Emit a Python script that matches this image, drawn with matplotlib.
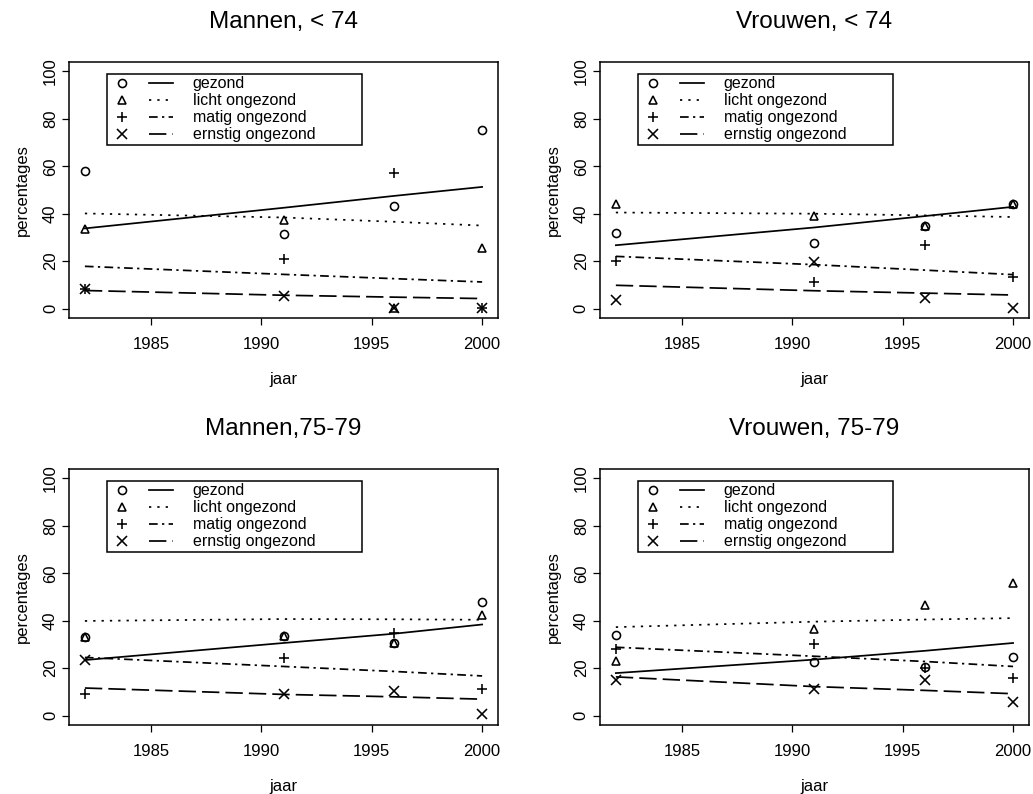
import numpy as np
import matplotlib
matplotlib.use('Agg')
import matplotlib.pyplot as plt
from matplotlib.lines import Line2D
from matplotlib.legend_handler import HandlerTuple

plt.rcParams['font.family'] = ['Liberation Sans', 'DejaVu Sans']

years = [1982, 1991, 1996, 2000]
labels = ['gezond', 'licht ongezond', 'matig ongezond', 'ernstig ongezond']

# Mannen, < 74 : observed percentages
m74_gezond = [58.0, 31.5, 43.1, 75.4]
m74_licht = [33.6, 37.3, 0.4, 25.6]
m74_matig = [8.3, 20.9, 57.3, 0.4]
m74_ernstig = [8.2, 5.2, 0.4, 0.4]
# fitted
m74_fit_gezond = [33.8, 42.5, 47.5, 51.3]
m74_fit_licht = [40.1, 38.4, 36.6, 35.0]
m74_fit_matig = [17.8, 14.4, 12.6, 11.2]
m74_fit_ernstig = [7.6, 5.6, 4.8, 4.2]

# Vrouwen, < 74
v74_gezond = [31.8, 27.7, 34.9, 43.9]
v74_licht = [43.9, 39.1, 34.9, 43.9]
v74_matig = [19.9, 11.2, 26.8, 13.1]
v74_ernstig = [3.5, 19.5, 4.4, 0.4]
v74_fit_gezond = [26.7, 34.2, 39.0, 42.9]
v74_fit_licht = [40.5, 40.0, 39.3, 38.6]
v74_fit_matig = [22.0, 18.5, 16.2, 14.3]
v74_fit_ernstig = [9.8, 7.5, 6.5, 5.7]

# Mannen, 75-79
m79_gezond = [33.3, 33.6, 30.5, 47.7]
m79_licht = [33.3, 33.6, 30.5, 42.6]
m79_matig = [9.2, 24.2, 35.0, 11.0]
m79_ernstig = [23.5, 9.2, 10.5, 0.7]
m79_fit_gezond = [23.4, 30.6, 34.5, 38.4]
m79_fit_licht = [39.9, 40.7, 40.6, 40.4]
m79_fit_matig = [24.5, 20.7, 18.6, 16.7]
m79_fit_ernstig = [11.6, 8.9, 7.9, 6.9]

# Vrouwen, 75-79
v79_gezond = [33.9, 22.7, 20.6, 24.5]
v79_licht = [22.8, 36.6, 46.8, 55.7]
v79_matig = [28.2, 30.2, 20.0, 15.9]
v79_ernstig = [14.9, 11.2, 14.9, 5.5]
v79_fit_gezond = [17.9, 23.6, 27.3, 30.6]
v79_fit_licht = [37.3, 39.6, 40.5, 41.1]
v79_fit_matig = [28.8, 25.0, 22.8, 20.7]
v79_fit_ernstig = [16.3, 12.2, 10.6, 9.2]

markers = ['o', '^', '+', 'x']
msizes = [5.8, 6.2, 7.3, 6.6]
lstyles = ['-', (0, (1.3, 3.5)), (0, (5, 2.5, 1.3, 2.5)), (0, (10, 3.5))]


def draw_panel(ax, title, obs, fits):
    for i in range(4):
        ax.plot(years, fits[i], color='black', lw=1.25, linestyle=lstyles[i])
    for i in range(4):
        ax.plot(years, obs[i], linestyle='none', marker=markers[i], ms=msizes[i],
                mfc='none', mec='black', mew=1.15)
    ax.set_xlim(1981.28, 2000.72)
    ax.set_ylim(-4, 104)
    ax.set_xticks([1985, 1990, 1995, 2000])
    ax.set_yticks([0, 20, 40, 60, 80, 100])
    ax.tick_params(axis='both', direction='out', length=5, width=0.9, labelsize=12)
    ax.tick_params(axis='x', pad=9)
    ax.tick_params(axis='y', pad=3)
    for lab in ax.get_yticklabels():
        lab.set_rotation(90)
        lab.set_va('center')
    for s in ax.spines.values():
        s.set_linewidth(1.1)
    ax.text(0.5, 1.156, title, transform=ax.transAxes, ha='center', va='center', fontsize=17.5)
    ax.set_xlabel('jaar', fontsize=12)
    ax.xaxis.set_label_coords(0.5, -0.242)
    ax.xaxis.label.set_va('center')
    ax.set_ylabel('percentages', fontsize=12)
    ax.yaxis.set_label_coords(-0.108, 0.5)
    ax.yaxis.label.set_va('center')

    handles = []
    for i in range(4):
        h_m = Line2D([], [], linestyle='none', marker=markers[i], ms=msizes[i],
                     mfc='none', mec='black', mew=1.15)
        h_l = Line2D([], [], color='black', lw=1.25, linestyle=lstyles[i])
        handles.append((h_m, h_l))
    leg = ax.legend(handles, labels, handler_map={tuple: HandlerTuple(ndivide=None, pad=0.9)},
                    loc='upper left', bbox_to_anchor=(0.089, 0.69, 0.594, 0.263), mode='expand',
                    borderaxespad=0, fontsize=11.5, handlelength=4.0, handletextpad=1.2,
                    labelspacing=0.12, borderpad=0.15, fancybox=False, framealpha=1,
                    edgecolor='black')
    leg.get_frame().set_linewidth(1.1)


fig = plt.figure(figsize=(10.33, 7.94), dpi=100)
w, h = 0.4153, 0.3224
ax1 = fig.add_axes([0.0668, 0.5995, w, h])
ax2 = fig.add_axes([0.5808, 0.5995, w, h])
ax3 = fig.add_axes([0.0668, 0.0869, w, h])
ax4 = fig.add_axes([0.5808, 0.0869, w, h])

draw_panel(ax1, 'Mannen, < 74',
           [m74_gezond, m74_licht, m74_matig, m74_ernstig],
           [m74_fit_gezond, m74_fit_licht, m74_fit_matig, m74_fit_ernstig])
draw_panel(ax2, 'Vrouwen, < 74',
           [v74_gezond, v74_licht, v74_matig, v74_ernstig],
           [v74_fit_gezond, v74_fit_licht, v74_fit_matig, v74_fit_ernstig])
draw_panel(ax3, 'Mannen,75-79',
           [m79_gezond, m79_licht, m79_matig, m79_ernstig],
           [m79_fit_gezond, m79_fit_licht, m79_fit_matig, m79_fit_ernstig])
draw_panel(ax4, 'Vrouwen, 75-79',
           [v79_gezond, v79_licht, v79_matig, v79_ernstig],
           [v79_fit_gezond, v79_fit_licht, v79_fit_matig, v79_fit_ernstig])

fig.savefig('out.png', dpi=100)
